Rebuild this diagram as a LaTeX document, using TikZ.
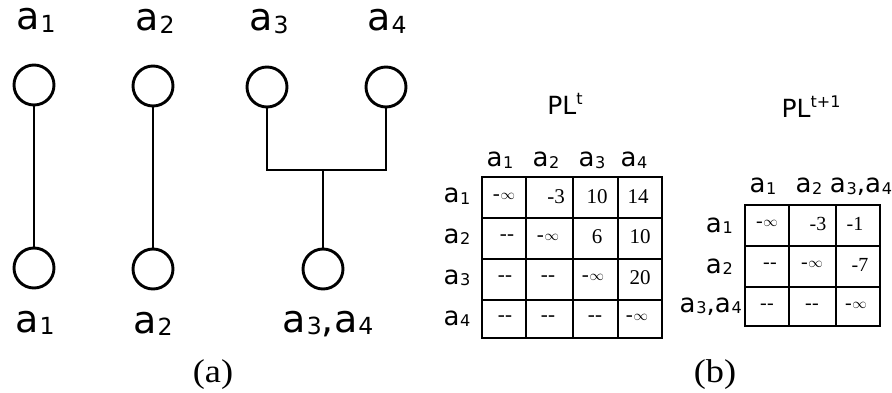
\documentclass[tikz,border=0pt]{standalone}
\usepackage{fontspec}
\setmainfont{Liberation Serif}
\newfontfamily\lblfont{DejaVu Sans}

% variable name with a lowered, reduced index
\newcommand\var[1]{a\kern0.03em\raisebox{-0.06em}{\scalebox{0.62}{#1}}}
% entries of the tables
\newcommand\ninf{-\kern0.03em\raisebox{0.02em}{\fontsize{15}{15}\selectfont$\infty$}}
\newcommand\nil{-\kern0.02em-}

\tikzset{
  lbl/.style={font=\lblfont\fontsize{38}{38}\selectfont, inner sep=0, anchor=base},
  hdr/.style={font=\lblfont\fontsize{26}{26}\selectfont, inner sep=0, anchor=base},
  ttl/.style={font=\lblfont\fontsize{25}{25}\selectfont, inner sep=0, anchor=base},
  subcap/.style={font=\fontsize{33}{33}\selectfont, inner sep=0, anchor=base},
  val/.style={font=\fontsize{21}{21}\selectfont, inner sep=0},
  valb/.style={font=\fontsize{20}{20}\selectfont, inner sep=0},
  vert/.style={circle, draw, line width=2.9pt, minimum size=40pt, inner sep=0},
  wire/.style={line width=2.9pt},
  tgrid/.style={line width=2pt}
}

\begin{document}
\begin{tikzpicture}[x=1pt,y=-1pt]
\useasboundingbox (0,0) rectangle (892,393);

% ---------- (a) merging of the sequences ----------
\node[lbl] (ta1) at (36,30) {\var{1}};
\node[lbl] (ta2) at (155,31) {\var{2}};
\node[lbl] (ta3) at (269,31) {\var{3}};
\node[lbl] (ta4) at (387,31) {\var{4}};

\node[vert] (u1) at (34,85) {};
\node[vert] (u2) at (153,86) {};
\node[vert] (u3) at (267,87) {};
\node[vert] (u4) at (386,87) {};

\node[vert] (v1) at (34,268) {};
\node[vert] (v2) at (153,269) {};
\node[vert] (v34) at (323,269) {};

\coordinate (j3) at (267,170);
\coordinate (j4) at (386,170);
\coordinate (jm) at (323,170);

\draw[wire] (u1) -- (v1);
\draw[wire] (u2) -- (v2);
\draw[wire] (u3.south) -- (j3) -- (j4) -- (u4.south);
\draw[wire] (jm) -- (v34.north);

\node[lbl] (ba1) at (35,332) {\var{1}};
\node[lbl] (ba2) at (153,333) {\var{2}};
\node[lbl] (ba34) at (328,332) {\var{3},\var{4}};

\node[subcap] (capa) at (213,382) {\scalebox{1.1}[1]{(a)}};

% ---------- (b) the two tables ----------
\node[ttl] (plt) at (565,115) {PL\raisebox{0.42em}{\scalebox{0.64}{t}}};
\node[ttl] (pltt) at (811,118) {PL\raisebox{0.42em}{\scalebox{0.64}{t+1}}};

% first table
\draw[tgrid] (481.7,176.7) rectangle (662,338);
\foreach \cx in {526,573,617.7} \draw[tgrid] (\cx,176.7) -- (\cx,338);
\foreach \ry in {218,259.3,300} \draw[tgrid] (481.7,\ry) -- (662,\ry);

\foreach \x/\t [count=\i] in {500/1,546/2,592/3,634/4}
  \node[hdr] (ch\i) at (\x,167) {\var{\t}};
\foreach \y/\t [count=\i] in {203/1,243/2,284/3,325/4}
  \node[hdr] (rh\i) at (457,\y) {\var{\t}};

\foreach \x/\y/\t [count=\i] in {
  504/197/\ninf, 556/197/-3, 597/197/10, 638/197/14,
  507/238/\nil, 548/238/\ninf, 597/237/6, 640/237/10,
  505/279/\nil, 548/279/\nil, 593/278/\ninf, 640/278/20,
  505/319/\nil, 548/319/\nil, 595/319/\nil, 637/318/\ninf}
  \node[val] (pa\i) at (\x,\y) {\t};

% second table
\draw[tgrid] (745,205) rectangle (880,326);
\foreach \cx in {789,836} \draw[tgrid] (\cx,205) -- (\cx,326);
\foreach \ry in {245.7,286.7} \draw[tgrid] (745,\ry) -- (880,\ry);

\node[hdr] (dh1) at (763,193) {\var{1}};
\node[hdr] (dh2) at (809,193) {\var{2}};
\node[hdr] (dh3) at (861,193) {\var{3},\var{4}};
\node[hdr, anchor=base east] (eh1) at (733,232) {\var{1}};
\node[hdr, anchor=base east] (eh2) at (733,273) {\var{2}};
\node[hdr, anchor=base east] (eh3) at (742,312) {\var{3},\var{4}};

\foreach \x/\y/\t [count=\i] in {
  767/224/\ninf, 818/224/-3, 855/224/-1,
  770/266/\nil, 812/265/\ninf, 860/265/-7,
  767/307/\nil, 812/307/\nil, 856/306/\ninf}
  \node[valb] (pb\i) at (\x,\y) {\t};

\node[subcap] (capb) at (715,382) {\scalebox{1.1}[1]{(b)}};
\end{tikzpicture}
\end{document}
